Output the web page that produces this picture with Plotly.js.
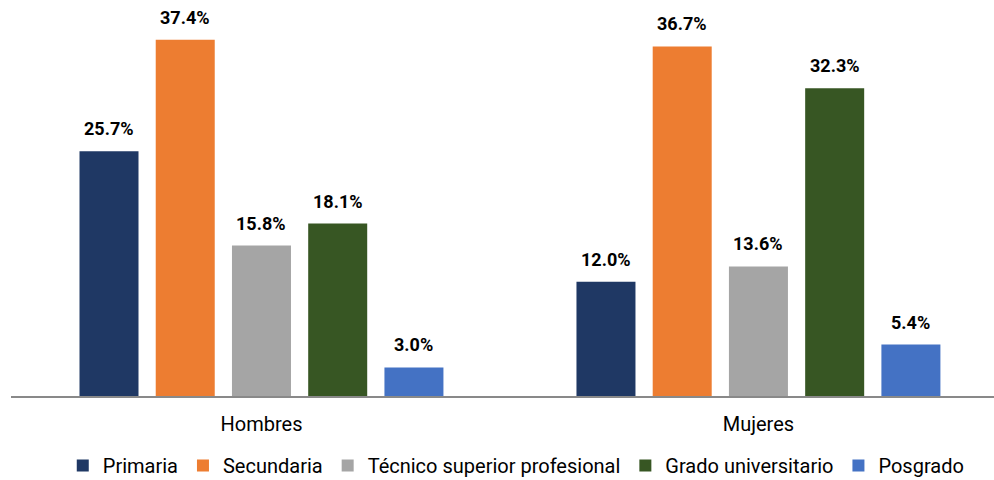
<!DOCTYPE html>
<html>
<head>
<meta charset="utf-8">
<script src="https://cdn.plot.ly/plotly-3.0.1.min.js"></script>
<style>
  body { margin: 0; background: #fff; }
  #chart { width: 994px; height: 480px; }
</style>
</head>
<body>
<div id="chart"></div>
<script>
const categories = ['Hombres', 'Mujeres'];
const seriesNames = ['Primaria', 'Secundaria', 'Técnico superior profesional', 'Grado universitario', 'Posgrado'];
const primaria = [25.7, 12.0];
const secundaria = [37.4, 36.7];
const tecnico = [15.8, 13.6];
const grado = [18.1, 32.3];
const posgrado = [3.0, 5.4];
const colors = ['#1F3864', '#ED7D31', '#A5A5A5', '#375623', '#4472C4'];

const values = [primaria, secundaria, tecnico, grado, posgrado];

const bargap = 0.233;
const bargroupgap = 0.226;

const traces = values.map((vals, i) => ({
    x: categories,
    y: vals,
    type: 'bar',
    name: seriesNames[i],
    marker: { color: colors[i] },
    hoverinfo: 'none'
}));

// value labels sit a bit higher above the bars than plotly's outside text
const slot = (1 - bargap) / values.length;
const annotations = [];
values.forEach((vals, i) => {
    vals.forEach((v, j) => {
        annotations.push({
            x: j + (i - (values.length - 1) / 2) * slot,
            y: v,
            xref: 'x',
            yref: 'y',
            text: v.toFixed(1) + '%',
            showarrow: false,
            yanchor: 'bottom',
            yshift: 10,
            font: { family: 'Roboto', size: 18, color: '#000', weight: 'bold' }
        });
    });
});

const layout = {
    width: 994,
    height: 480,
    margin: { l: 11, r: 0, t: 15, b: 84, autoexpand: false },
    font: { family: 'Roboto', color: '#000' },
    barmode: 'group',
    bargap: bargap,
    bargroupgap: bargroupgap,
    showlegend: true,
    legend: {
        orientation: 'h',
        x: 0.514, xanchor: 'center',
        y: -0.131, yanchor: 'top',
        font: { size: 20 },
        itemwidth: 30
    },
    annotations: annotations,
    xaxis: {
        type: 'category',
        range: [-0.504, 1.474],
        showline: true,
        linecolor: '#898989',
        linewidth: 2,
        ticks: '',
        tickfont: { size: 20 },
        ticklabelstandoff: 9,
        fixedrange: true
    },
    yaxis: {
        range: [0, 40],
        showgrid: false,
        showticklabels: false,
        zeroline: false,
        fixedrange: true
    },
    plot_bgcolor: '#fff',
    paper_bgcolor: '#fff'
};

Plotly.newPlot('chart', traces, layout, { displayModeBar: false, staticPlot: true });
</script>
</body>
</html>
